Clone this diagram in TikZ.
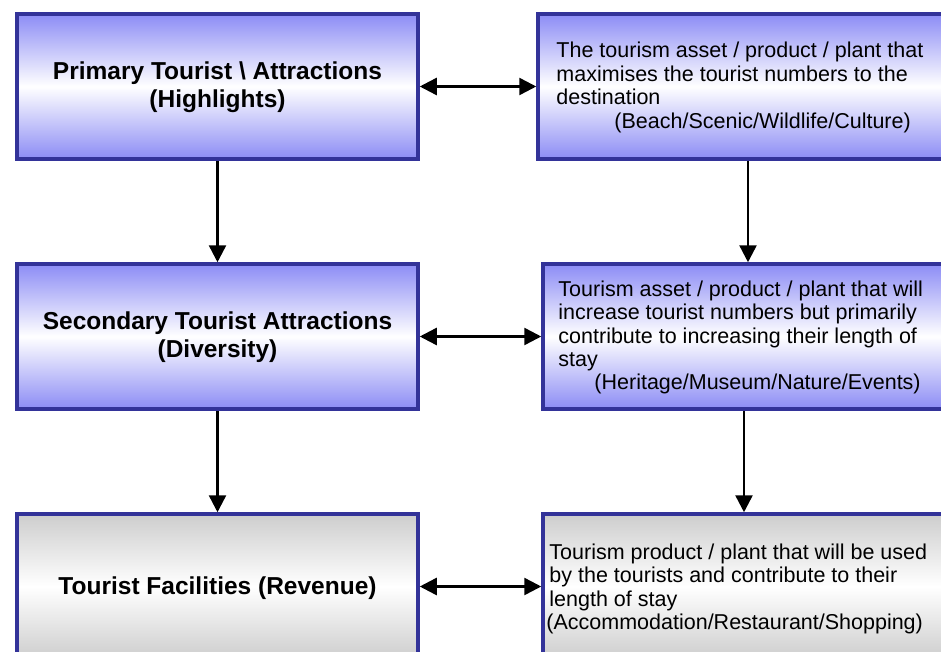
\documentclass[tikz,border=0pt]{standalone}
\usepackage{fontspec}
\setmainfont{Liberation Sans}
\usetikzlibrary{arrows.meta,calc}

\definecolor{boxline}{RGB}{51,51,153}
\definecolor{boxblue}{RGB}{140,140,245}
\definecolor{boxgray}{RGB}{205,205,205}

\tikzset{
  box/.style={draw=boxline, line width=3.5pt, rectangle, inner sep=0pt},
  bluebox/.style={box, top color=boxblue, bottom color=boxblue, middle color=white},
  graybox/.style={box, top color=boxgray, bottom color=boxgray, middle color=white},
  title/.style={font=\fontsize{24.5}{28}\selectfont\bfseries, align=center, inner sep=0pt},
  desc/.style={font=\fontsize{21.5}{23.4}\selectfont, align=left, anchor=west, inner sep=0pt},
  conn/.style={line width=2.5pt, -{Triangle[length=17pt,width=17pt]}},
  twoway/.style={line width=2.5pt, {Triangle[length=17pt,width=17pt]}-{Triangle[length=17pt,width=17pt]}},
}

\begin{document}
\begin{tikzpicture}[x=1pt, y=-1pt]
  \useasboundingbox (0,0) rectangle (941,652);
  \clip (0,0) rectangle (941,652);

  % left column
  \node[bluebox, minimum width=401pt, minimum height=145pt] (l1) at (217.5,86.5) {};
  \node[bluebox, minimum width=401pt, minimum height=145pt] (l2) at (217.5,336.5) {};
  \node[graybox, minimum width=401pt, minimum height=145pt] (l3) at (217.5,586.5) {};

  % right column
  \node[bluebox, minimum width=420pt, minimum height=145pt] (r1) at (748,86.5) {};
  \node[bluebox, minimum width=402pt, minimum height=145pt] (r2) at (744,336.5) {};
  \node[graybox, minimum width=402pt, minimum height=145pt] (r3) at (744,586.5) {};

  % titles
  \node[title] (t1) at (217.5,87.5) {Primary Tourist \textbackslash\ Attractions\\(Highlights)};
  \node[title] (t2) at (217.5,337.5) {Secondary Tourist Attractions\\(Diversity)};
  \node[title] (t3) at (217.5,588) {Tourist Facilities (Revenue)};

  % descriptions
  \node[desc] (d1) at ($(r1.west)+(20,1)$) {The tourism asset / product / plant that\\
    maximises the tourist numbers to the\\
    destination\\
    \hspace*{58pt}(Beach/Scenic/Wildlife/Culture)};
  \node[desc] (d2) at ($(r2.west)+(17,1)$) {Tourism asset / product / plant that will\\
    increase tourist numbers but primarily\\
    contribute to increasing their length of\\
    stay\\
    \hspace*{36pt}(Heritage/Museum/Nature/Events)};
  \node[desc] (d3) at ($(r3.west)+(8,2.5)$) {Tourism product / plant that will be used\\
    by the tourists and contribute to their\\
    length of stay\\
    \hspace*{-3pt}(Accommodation/Restaurant/Shopping)};

  % connectors
  \draw[conn] (l1.south) -- (l2.north);
  \draw[conn] (l2.south) -- (l3.north);
  \draw[conn] (r1.south) -- (r1.south |- r2.north);
  \draw[conn] (r2.south) -- (r3.north);
  \draw[twoway] (l1.east) -- (r1.west);
  \draw[twoway] (l2.east) -- (r2.west);
  \draw[twoway] (l3.east) -- (r3.west);
\end{tikzpicture}
\end{document}
